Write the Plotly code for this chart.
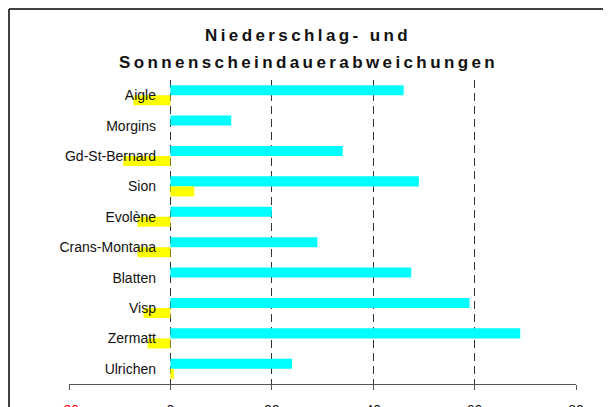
import plotly.graph_objects as go

# ====== data ======
stations = ["Aigle", "Morgins", "Gd-St-Bernard", "Sion", "Evolène",
            "Crans-Montana", "Blatten", "Visp", "Zermatt", "Ulrichen"]
niederschlag = [46, 12, 34, 49, 20, 29, 47.5, 59, 69, 24]
sonnenschein = [-7.3, 0, -9.3, 4.7, -6.5, -6.5, 0, -5.3, -4.5, 0.7]

x_ticks = [-20, 0, 20, 40, 60, 80]
x_ticktext = ["<span style='color:red'>-20</span>", "0", "20", "40", "60", "80"]
grid_vals = [0, 20, 40, 60]

title_lines = ["Niederschlag- und", "Sonnenscheindauerabweichungen"]

# ====== layout in pixels (screen coords; page body adds 8px) ======
W, H = 611, 407
OFF = 8
L, R, T, B = 69 - OFF, W - (576 - OFF), 80 - OFF, H - (384 - OFF)
pw, ph = W - L - R, H - T - B


def px_x(sx):
    return (sx - OFF - L) / pw


def px_y(sy):
    return (H - B - (sy - OFF)) / ph


fig = go.Figure()
fig.add_trace(go.Bar(y=stations, x=niederschlag, orientation="h",
                     marker=dict(color="#00FFFF", line_width=0), name="Niederschlag"))
fig.add_trace(go.Bar(y=stations, x=sonnenschein, orientation="h",
                     marker=dict(color="#FFFF00", line_width=0), name="Sonnenschein"))
# leere Spur nur für die gestrichelten Gitterlinien
fig.add_trace(go.Scatter(x=[], y=[], xaxis="x2", showlegend=False))

fig.update_layout(
    width=W, height=H,
    margin=dict(l=L, r=R, t=T, b=B, pad=0),
    paper_bgcolor="white", plot_bgcolor="white",
    barmode="group", bargap=0.34, bargroupgap=0,
    showlegend=False,
    font=dict(family="Liberation Sans, Arial", size=14, color="#111"),
    xaxis=dict(range=[-20, 80], tickvals=x_ticks, ticktext=x_ticktext, automargin=False,
               showgrid=False, zeroline=False, showline=True, linecolor="#555", linewidth=1,
               ticks="outside", ticklen=5, tickcolor="#555",
               anchor="free", position=0, ticklabelstandoff=8,
               tickfont=dict(size=14, color="#111")),
    xaxis2=dict(range=[-20, 80], overlaying="x", anchor="y", tickvals=grid_vals, automargin=False,
                showgrid=True, gridcolor="#333", griddash="8px,5px", gridwidth=1,
                showticklabels=False, zeroline=False, showline=False, ticks=""),
    yaxis=dict(autorange="reversed", anchor="free", position=px_x(172),
               automargin=False,
               showgrid=False, zeroline=False, showline=False, ticks="",
               ticklabelstandoff=16, tickfont=dict(size=14, color="#111")),
)

# Titel (zwei Zeilen, grosser Zeilenabstand)
for line, sy in zip(title_lines, [35, 63]):
    fig.add_annotation(text="<span style='font-weight:bold;letter-spacing:3.4px'>%s</span>" % line,
                       xref="paper", yref="paper", x=px_x(308), y=px_y(sy),
                       xanchor="center", yanchor="middle", showarrow=False,
                       font=dict(family="Liberation Sans, Arial", size=17, color="#111"))

# Rahmen links/oben
fig.add_shape(type="line", xref="paper", yref="paper",
              x0=px_x(7), x1=px_x(7), y0=px_y(415), y1=px_y(11),
              line=dict(color="#ccc", width=1))
fig.add_shape(type="line", xref="paper", yref="paper",
              x0=px_x(9), x1=px_x(9), y0=px_y(415), y1=px_y(9),
              line=dict(color="black", width=1.5))
fig.add_shape(type="line", xref="paper", yref="paper",
              x0=px_x(9), x1=px_x(620), y0=px_y(9), y1=px_y(9),
              line=dict(color="black", width=1.5))

fig.write_html("out.html")
